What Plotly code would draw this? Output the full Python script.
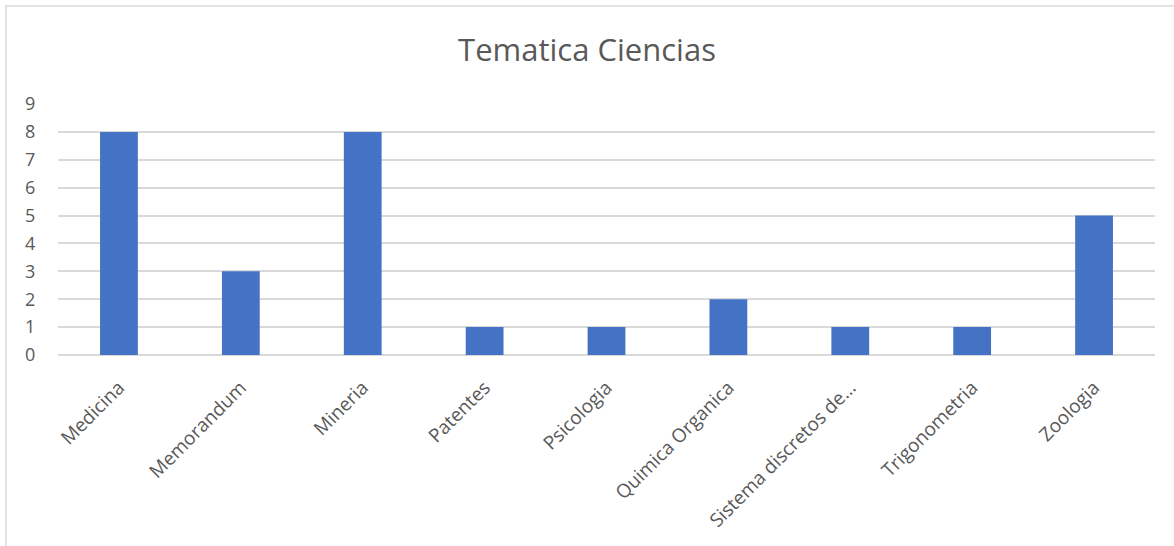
import plotly.graph_objects as go

categories = ["Medicina", "Memorandum", "Mineria", "Patentes", "Psicologia",
              "Quimica Organica", "Sistema discretos de…", "Trigonometria", "Zoologia"]
values = [8, 3, 8, 1, 1, 2, 1, 1, 5]
y_ticks = [0, 1, 2, 3, 4, 5, 6, 7, 8, 9]

W, H = 1174, 546
L, R, T, B = 58, 19, 104, 191
pw, ph = W - L - R, H - T - B

fig = go.Figure(go.Bar(x=categories, y=values, marker=dict(color="#4472C4", line=dict(width=0))))

font = "Open Sans, Liberation Sans, sans-serif"
fig.update_layout(
    width=W, height=H,
    margin=dict(l=L, r=R, t=T, b=B, autoexpand=False),
    paper_bgcolor="white", plot_bgcolor="white",
    bargap=0.69,
    showlegend=False,
    title=dict(text="Tematica Ciencias", x=0.5, xref="container", xanchor="center",
               y=(H - 50) / H, yanchor="middle", yref="container",
               font=dict(family=font, size=31, color="#595959")),
    xaxis=dict(tickangle=-45, tickfont=dict(family=font, size=19, color="#595959"),
               showgrid=False, showline=False, ticks="outside", ticklen=13,
               tickcolor="rgba(0,0,0,0)", fixedrange=True),
    yaxis=dict(range=[0, 9], tickvals=y_ticks, showgrid=True, gridcolor="#D9D9D9", gridwidth=1.5,
               zeroline=True, zerolinecolor="#D9D9D9", zerolinewidth=1.5,
               tickfont=dict(family=font, size=18, color="#595959"),
               ticks="outside", ticklen=18, tickcolor="rgba(0,0,0,0)", showline=False),
)

# chart frame
fig.add_shape(type="rect", xref="paper", yref="paper",
              x0=(6 - L) / pw, x1=(W + 10 - L) / pw,
              y0=-(H + 10 - T - ph) / ph, y1=(T + ph - 6) / ph,
              line=dict(color="#D9D9D9", width=1.5), fillcolor="rgba(0,0,0,0)", layer="below")

fig.write_html("out.html", config={"displayModeBar": False},
               post_script="document.body.style.margin='0';document.body.style.overflow='hidden';")
